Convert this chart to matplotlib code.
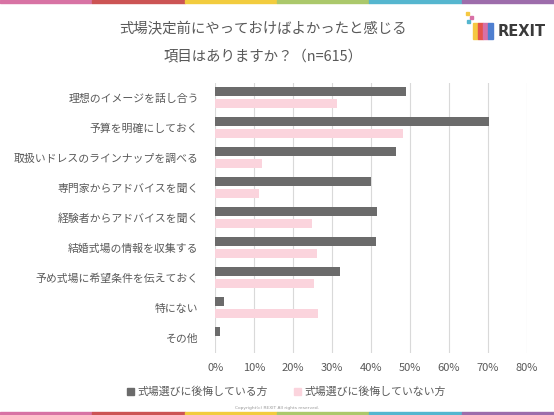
import matplotlib
matplotlib.use("Agg")
import matplotlib.pyplot as plt
import numpy as np
from matplotlib.patches import Rectangle

plt.rcParams['font.family'] = ['Noto Sans CJK JP', 'DejaVu Sans']

categories = [
    "理想のイメージを話し合う",
    "予算を明確にしておく",
    "取扱いドレスのラインナップを調べる",
    "専門家からアドバイスを聞く",
    "経験者からアドバイスを聞く",
    "結婚式場の情報を収集する",
    "予め式場に希望条件を伝えておく",
    "特にない",
    "その他",
]
regret = [49.1, 70.4, 46.3, 40.0, 41.6, 41.3, 32.1, 2.2, 1.2]
no_regret = [31.2, 48.1, 11.9, 11.2, 24.9, 26.1, 25.4, 26.4, 0.0]
series_names = ["式場選びに後悔している方", "式場選びに後悔していない方"]
xticks = [0, 10, 20, 30, 40, 50, 60, 70, 80]
title = "式場決定前にやっておけばよかったと感じる\n項目はありますか？（n=615）"

dark = "#6b6b6b"
pink = "#fbd4dd"
text_c = "#595959"

fig = plt.figure(figsize=(5.54, 4.15), dpi=100)
ax = fig.add_axes([215.3/554, 1-353/415, (526.7-215.3)/554, 270/415])

y = np.arange(len(categories))
h = 0.31
ax.barh(y - 0.21, regret, height=h, color=dark, zorder=3)
ax.barh(y + 0.19, no_regret, height=h, color=pink, zorder=3)

ax.set_xlim(0, 80)
ax.set_ylim(len(categories) - 0.5, -0.5)
ax.set_xticks(xticks)
ax.set_xticklabels([f"{t}%" for t in xticks], fontsize=8, color=text_c)
ax.set_yticks(y)
ax.set_yticklabels(categories, fontsize=7.8, color=text_c)
ax.tick_params(axis='both', length=0)
ax.tick_params(axis='y', pad=12)
ax.tick_params(axis='x', pad=7)
ax.grid(axis='x', color="#d9d9d9", linewidth=0.8, zorder=0)
for s in ax.spines.values():
    s.set_visible(False)

fig.text(263/554, 1-42.5/415, title, ha='center', va='center', fontsize=10.4,
         color=text_c, linespacing=2.2)

# legend
fig.patches.append(Rectangle((127/554, 1-395/415), 7/554, 7/415, transform=fig.transFigure,
                             color=dark, figure=fig))
fig.text(137/554, 1-392/415, series_names[0], fontsize=7.8, color=text_c, va='center')
fig.patches.append(Rectangle((294/554, 1-395/415), 7/554, 7/415, transform=fig.transFigure,
                             color=pink, figure=fig))
fig.text(304/554, 1-392/415, series_names[1], fontsize=7.8, color=text_c, va='center')

fig.text(277/554, 1-408/415, "Copyright(c) REXIT All rights reserved.", fontsize=3.2,
         color="#999999", ha='center', va='center', family='DejaVu Sans')

# color strips top and bottom
strip = ["#d873a4", "#cc5454", "#f2cc3e", "#abc86b", "#55b6cf", "#9d6dab"]
for i, c in enumerate(strip):
    fig.patches.append(Rectangle((i/6, 1-3/415), 1/6, 3/415, transform=fig.transFigure,
                                 color=c, figure=fig))
    fig.patches.append(Rectangle((i/6, 0), 1/6, 3/415, transform=fig.transFigure,
                                 color=c, figure=fig))

# logo
logo_bars = [(473, "#f5c842"), (478, "#e5534b"), (483, "#d870a6"), (488, "#4f7fd0")]
for xx, c in logo_bars:
    fig.patches.append(Rectangle((xx/554, 1-39/415), 5/554, 16/415, transform=fig.transFigure,
                                 color=c, figure=fig))
for (xx, yy, c) in [(466, 15, "#f5c842"), (470, 19, "#d870a6"), (467, 23, "#55b6cf")]:
    fig.patches.append(Rectangle((xx/554, 1-yy/415), 2.5/554, 2.5/415, transform=fig.transFigure,
                                 color=c, figure=fig))
fig.text(498/554, 1-31/415, "REXIT", fontsize=10.5, fontweight='bold', color="#3a3a3a",
         va='center', ha='left', family='DejaVu Sans')

fig.savefig("out.png", dpi=100, facecolor='white')
